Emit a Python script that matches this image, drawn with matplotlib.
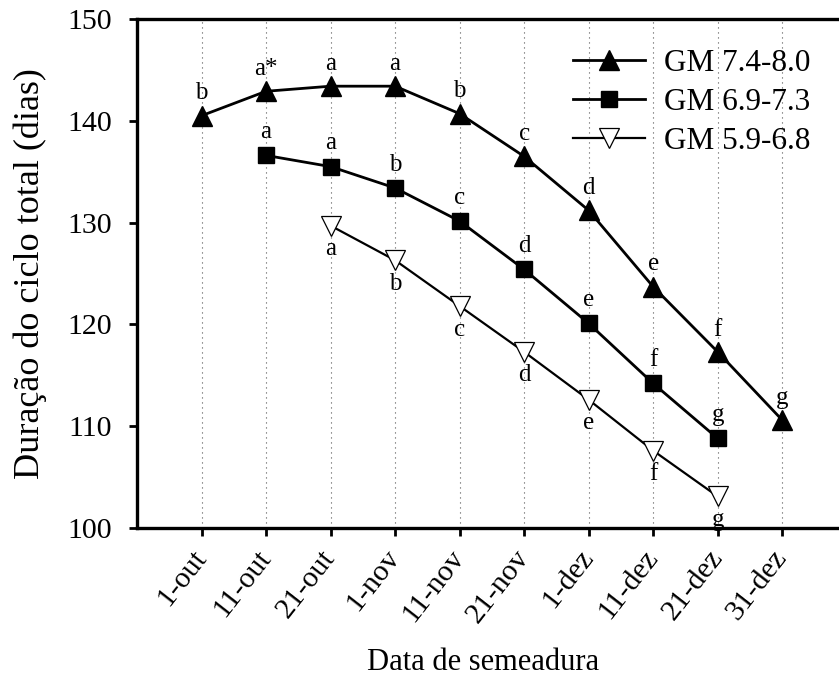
import matplotlib.pyplot as plt
import numpy as np

plt.rcParams['font.family'] = ['Liberation Serif', 'DejaVu Serif']

datas = ["1-out", "11-out", "21-out", "1-nov", "11-nov", "21-nov", "1-dez", "11-dez", "21-dez", "31-dez"]

gm_74 = [140.5, 142.9, 143.4, 143.4, 140.7, 136.5, 131.2, 123.7, 117.3, 110.6]
gm_74_let = ["b", "a*", "a", "a", "b", "c", "d", "e", "f", "g"]

gm_69 = [136.6, 135.5, 133.4, 130.15, 125.4, 120.1, 114.2, 108.8]
gm_69_let = ["a", "a", "b", "c", "d", "e", "f", "g"]

gm_59 = [129.7, 126.3, 121.8, 117.3, 112.6, 107.6, 103.1]
gm_59_let = ["a", "b", "c", "d", "e", "f", "g"]

fig = plt.figure(figsize=(8.39, 6.81), dpi=100)
ax = fig.add_axes([137/839, 1 - 528/681, 1 - 137/839, 509/681])

x = np.arange(len(datas))
x74 = x
x69 = x[1:1+len(gm_69)]
x59 = x[2:2+len(gm_59)]

ax.plot(x74, gm_74, '-', color='black', lw=2, marker='^', ms=15, mfc='black', mec='black', label='GM 7.4-8.0', zorder=3)
ax.plot(x69, gm_69, '-', color='black', lw=2, marker='s', ms=11, mfc='black', mec='black', label='GM 6.9-7.3', zorder=3)
ax.plot(x59, gm_59, '-', color='black', lw=1.6, marker='v', ms=14.5, mfc='white', mec='black', mew=0.9, label='GM 5.9-6.8', zorder=3)

# letras das comparacoes de medias
for xi, yi, t in zip(x74, gm_74, gm_74_let):
    ax.text(xi, yi + 1.6, t, ha='center', va='baseline', fontsize=18)
for xi, yi, t in zip(x69, gm_69, gm_69_let):
    ax.text(xi, yi + 1.7, t, ha='center', va='baseline', fontsize=18)
for xi, yi, t in zip(x59, gm_59, gm_59_let):
    ax.text(xi, yi - 2.9, t, ha='center', va='baseline', fontsize=18)

for xi in x:
    ax.axvline(xi, color='#555555', lw=0.8, ls=(0, (1, 3.5)), zorder=1)

ax.set_xlim(-1.0, 9.88)
ax.set_ylim(100, 150)
ax.set_yticks([100, 110, 120, 130, 140, 150])
ax.set_xticks(x)
ax.set_xticklabels(datas, rotation=52, ha='right', va='center', rotation_mode='anchor', fontsize=21.5)
ax.tick_params(axis='y', labelsize=21.5, width=2, length=6, direction='out', pad=12)
ax.tick_params(axis='x', width=2, length=6, direction='out', pad=12)
ax.spines['right'].set_visible(False)
for s in ['left', 'bottom', 'top']:
    ax.spines[s].set_linewidth(2.4)

ax.set_ylabel('Duração do ciclo total (dias)', fontsize=26)
ax.yaxis.set_label_coords(-0.128, 0.5)
ax.set_xlabel('Data de semeadura', fontsize=22)
ax.xaxis.set_label_coords(0.493, -0.236)

leg = ax.legend(loc='upper left', bbox_to_anchor=(573/839, 1 - 49/681), bbox_transform=fig.transFigure,
                frameon=False, fontsize=22.5, borderpad=0, borderaxespad=0,
                handlelength=2.3, labelspacing=0.32, handletextpad=0.6)

fig.savefig('out.png', dpi=100)
